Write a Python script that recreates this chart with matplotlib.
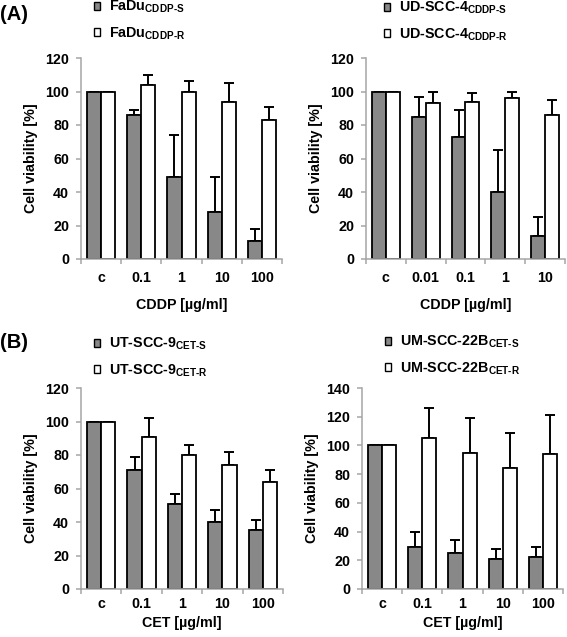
import numpy as np
import matplotlib
matplotlib.use("Agg")
import matplotlib.pyplot as plt
from matplotlib.patches import Patch

plt.rcParams["font.family"] = ["Liberation Sans", "DejaVu Sans"]
plt.rcParams["font.weight"] = "bold"
plt.rcParams["mathtext.fontset"] = "custom"
plt.rcParams["mathtext.rm"] = "Liberation Sans:bold"
plt.rcParams["mathtext.bf"] = "Liberation Sans:bold"
plt.rcParams["mathtext.it"] = "Liberation Sans:bold"
plt.rcParams["mathtext.default"] = "bf"

# =========================
# DATA
# =========================
cddp_doses_a = ["c", "0.1", "1", "10", "100"]
cddp_doses_b = ["c", "0.01", "0.1", "1", "10"]
cet_doses = ["c", "0.1", "1", "10", "100"]

fadu_s = [100, 86, 49, 28, 11]
fadu_s_sd = [0, 3, 25, 21, 7]
fadu_r = [100, 104, 100, 94, 83]
fadu_r_sd = [0, 6, 6, 11, 8]

udscc4_s = [100, 85, 73, 40, 14]
udscc4_s_sd = [0, 12, 16, 25, 11]
udscc4_r = [100, 93, 94, 96, 86]
udscc4_r_sd = [0, 7, 5, 4, 9]

utscc9_s = [100, 71, 51, 40, 35]
utscc9_s_sd = [0, 8, 6, 7, 6]
utscc9_r = [100, 91, 80, 74, 64]
utscc9_r_sd = [0, 11, 6, 8, 7]

umscc22b_s = [100, 29, 25, 21, 22]
umscc22b_s_sd = [0, 11, 9, 7, 7]
umscc22b_r = [100, 105, 95, 84, 94]
umscc22b_r_sd = [0, 21, 24, 25, 27]

HY = "\u2010"
W, H = 567, 637
GRAY = "#888888"
SPINE = "#a6a6a6"


def px_axes(fig, x0, x1, ytop, ybot):
    return fig.add_axes([x0 / W, (H - ybot) / H, (x1 - x0) / W, (ybot - ytop) / H])


def bar_panel(fig, box, cats, s, s_sd, r, r_sd, lab_s, lab_r, xlabel, ymax,
              legend_xy, tick_pad, xlabelpad):
    ax = px_axes(fig, *box)
    x = np.arange(len(cats))
    w = 0.35
    ax.bar(x - w / 2, s, w, color=GRAY, edgecolor="black", linewidth=1.3, zorder=2)
    ax.bar(x + w / 2, r, w, color="white", edgecolor="black", linewidth=1.3, zorder=2)
    z = np.zeros(len(cats))
    ax.errorbar(x - w / 2, s, yerr=[z, s_sd], fmt="none", ecolor="black",
                elinewidth=1.4, capsize=3.5, capthick=1.4, zorder=1)
    ax.errorbar(x + w / 2, r, yerr=[z, r_sd], fmt="none", ecolor="black",
                elinewidth=1.4, capsize=3.5, capthick=1.4, zorder=1)

    ax.set_xlim(-0.5, len(cats) - 0.5)
    ax.set_ylim(0, ymax)
    ax.set_yticks(np.arange(0, ymax + 1, 20))
    ax.set_xticks(x)
    ax.set_xticklabels(cats)
    ax.set_xticks(np.arange(len(cats) + 1) - 0.5, minor=True)
    ax.tick_params(axis="x", which="major", length=0, pad=tick_pad, labelsize=10.3)
    ax.tick_params(axis="x", which="minor", length=3.5, color=SPINE, width=1.1, direction="out")
    ax.tick_params(axis="y", length=3.5, color=SPINE, width=1.1, pad=5, labelsize=10.3)
    for sp in ["top", "right"]:
        ax.spines[sp].set_visible(False)
    for sp in ["left", "bottom"]:
        ax.spines[sp].set_color(SPINE)
        ax.spines[sp].set_linewidth(1.1)
    ax.set_ylabel("Cell viability [%]", fontsize=10.3, fontweight="bold", labelpad=5)
    ax.set_xlabel(xlabel, fontsize=10.3, fontweight="bold", labelpad=xlabelpad)

    handles = [Patch(facecolor=GRAY, edgecolor="black", linewidth=1.0, label=lab_s),
               Patch(facecolor="white", edgecolor="black", linewidth=1.0, label=lab_r)]
    ax.legend(handles=handles, loc="upper left",
              bbox_to_anchor=(legend_xy[0] / W, 1 - legend_xy[1] / H),
              bbox_transform=fig.transFigure, frameon=False, borderpad=0,
              borderaxespad=0, handlelength=0.45, handleheight=0.45,
              handletextpad=0.6, labelspacing=0.7,
              prop={"weight": "bold", "size": 10.3})
    return ax


fig = plt.figure(figsize=(W / 100, H / 100), dpi=100)

bar_panel(fig, (81, 282, 58, 259), cddp_doses_a, fadu_s, fadu_s_sd, fadu_r, fadu_r_sd,
          "FaDu$_{CDDP" + HY + "S}$", "FaDu$_{CDDP" + HY + "R}$",
          "CDDP [µg/ml]", 120, (94, -1), 9, 9)
bar_panel(fig, (366, 565, 58, 259), cddp_doses_b, udscc4_s, udscc4_s_sd, udscc4_r, udscc4_r_sd,
          "UD-SCC-4$_{CDDP" + HY + "S}$", "UD-SCC-4$_{CDDP" + HY + "R}$",
          "CDDP [µg/ml]", 120, (384, 0), 9, 9)
bar_panel(fig, (81, 283, 388, 589), cet_doses, utscc9_s, utscc9_s_sd, utscc9_r, utscc9_r_sd,
          "UT-SCC-9$_{CET" + HY + "S}$", "UT-SCC-9$_{CET" + HY + "R}$",
          "CET [µg/ml]", 120, (94, 336), 6, 3)
bar_panel(fig, (362, 563, 388, 589), cet_doses, umscc22b_s, umscc22b_s_sd, umscc22b_r, umscc22b_r_sd,
          "UM-SCC-22B$_{CET" + HY + "S}$", "UM-SCC-22B$_{CET" + HY + "R}$",
          "CET [µg/ml]", 140, (385, 334), 6, 3)

fig.text(0 / W, 1 - 14 / H, "(A)", fontsize=14.5, fontweight="bold", va="center", ha="left")
fig.text(0 / W, 1 - 343 / H, "(B)", fontsize=14.5, fontweight="bold", va="center", ha="left")

fig.savefig("out.png", dpi=100)
